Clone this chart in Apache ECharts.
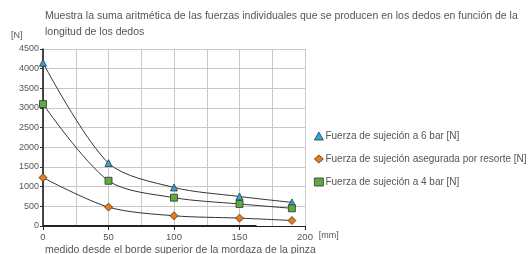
<!DOCTYPE html>
<html>
<head>
<meta charset="utf-8">
<script src="https://cdn.jsdelivr.net/npm/echarts@6/dist/echarts.min.js"></script>
<style>
  html, body { margin: 0; padding: 0; background: #fff; }
  #chart { width: 532px; height: 254px; }
</style>
</head>
<body>
<div id="chart"></div>
<script>
// datos
const distancias = [0, 50, 100, 150, 190]
const fuerza6bar = [4150, 1600, 980, 750, 600]
const fuerzaResorte = [1230, 480, 260, 200, 140]
const fuerza4bar = [3100, 1150, 720, 560, 450]

const nombres = [
  'Fuerza de sujeción a 6 bar [N]',
  'Fuerza de sujeción asegurada por resorte [N]',
  'Fuerza de sujeción a 4 bar [N]',
]
const colores = ['#2aa9d8', '#f07a12', '#5bab3f']
const simbolos = ['triangle', 'diamond', 'rect']

const toPairs = (vals) => vals.map((v, i) => [distancias[i], v])

const makeSeries = (i, vals) => ({
  name: nombres[i],
  type: 'line',
  smooth: 0.3,
  symbol: simbolos[i],
  symbolSize: i === 1 ? 8 : 7,
  itemStyle: { color: colores[i], borderColor: '#333', borderWidth: 0.8 },
  lineStyle: { color: '#333', width: 1 },
  data: toPairs(vals),
  z: 3,
})

const chart = echarts.init(document.getElementById('chart'))
const font = 'Liberation Sans, Arial, sans-serif'

chart.setOption({
  animation: false,
  title: [
    {
      text: 'Muestra la suma aritmética de las fuerzas individuales que se producen en los dedos en función de la\nlongitud de los dedos',
      left: 40,
      top: 3,
      textStyle: { fontSize: 10.5, fontWeight: 'normal', color: '#555', fontFamily: font, lineHeight: 16 },
    },
    {
      text: 'medido desde el borde superior de la mordaza de la pinza',
      left: 40,
      top: 240,
      textStyle: { fontSize: 10.5, fontWeight: 'normal', color: '#555', fontFamily: font },
    },
    {
      text: '[N]',
      left: 6,
      top: 26,
      textStyle: { fontSize: 9, fontWeight: 'normal', color: '#555', fontFamily: font },
    },
  ],
  grid: { left: 43, right: 227, top: 49, bottom: 28 },
  legend: {
    orient: 'vertical',
    left: 309,
    top: 126,
    itemGap: 13,
    itemWidth: 9,
    itemHeight: 8,
    data: [
      { name: nombres[0], icon: 'triangle', itemStyle: { borderColor: '#333', borderWidth: 0.8 } },
      { name: nombres[1], icon: 'diamond', itemStyle: { borderColor: '#333', borderWidth: 0.8 } },
      { name: nombres[2], icon: 'rect', itemStyle: { borderColor: '#333', borderWidth: 0.8 } },
    ],
    textStyle: { fontSize: 10, color: '#555', fontFamily: font, padding: [0, 0, 0, -3] },
  },
  xAxis: {
    type: 'value',
    min: 0,
    max: 200,
    interval: 50,
    name: '[mm]',
    nameLocation: 'end',
    nameGap: 8,
    nameTextStyle: { fontSize: 9, color: '#555', fontFamily: font, verticalAlign: 'top', padding: [5, 0, 0, 0] },
    axisLine: { lineStyle: { color: '#222', width: 1 } },
    axisTick: { show: true, length: 4, lineStyle: { color: '#222' } },
    minorTick: { show: false, splitNumber: 2 },
    axisLabel: { fontSize: 9.5, color: '#555', fontFamily: font, margin: 6 },
    splitLine: { show: true, lineStyle: { color: '#c8c8c8', width: 1 } },
    minorSplitLine: { show: true, lineStyle: { color: '#c8c8c8', width: 1 } },
  },
  yAxis: {
    type: 'value',
    min: 0,
    max: 4500,
    interval: 500,
    axisLine: { show: true, lineStyle: { color: '#111', width: 1.5 } },
    axisTick: { show: true, length: 3, lineStyle: { color: '#333' } },
    axisLabel: { fontSize: 9, color: '#555', fontFamily: font, margin: 4, formatter: (v) => String(v) },
    splitLine: { show: true, lineStyle: { color: '#c8c8c8', width: 1 } },
  },
  series: [
    makeSeries(0, fuerza6bar),
    Object.assign(makeSeries(1, fuerzaResorte), {
      markLine: {
        silent: true,
        symbol: 'none',
        label: { show: false },
        lineStyle: { color: '#222', width: 2, type: 'solid' },
        data: [[{ coord: [0, 0] }, { coord: [163, 0] }]],
      },
    }),
    makeSeries(2, fuerza4bar),
  ],
})
</script>
</body>
</html>
